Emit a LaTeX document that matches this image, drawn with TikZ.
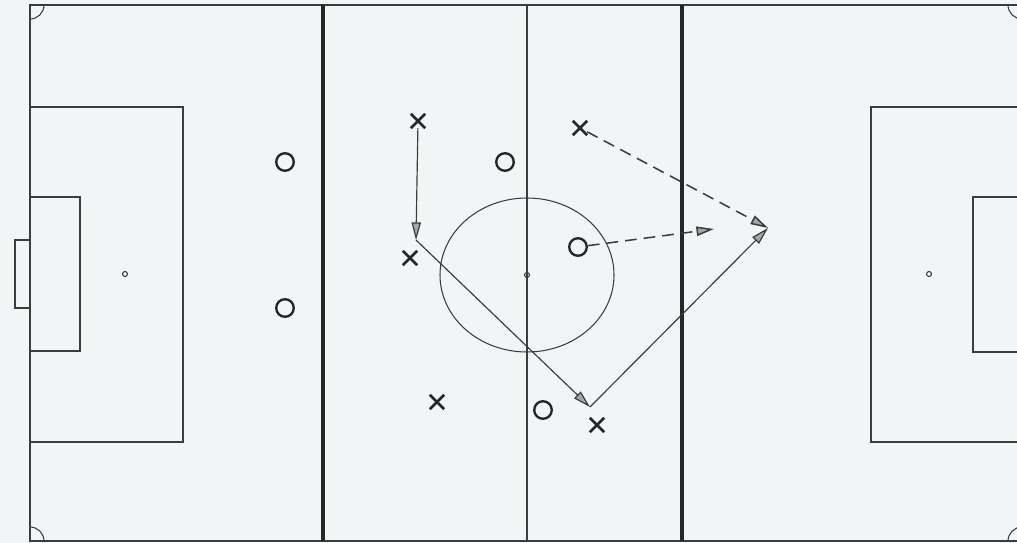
\documentclass[tikz,border=0pt]{standalone}
\usetikzlibrary{arrows.meta,shapes.misc}
\definecolor{paper}{RGB}{242,245,246}
\definecolor{ink}{RGB}{60,60,60}
\tikzset{
  pitch/.style={draw=ink,line width=0.9pt},
  thirdline/.style={draw=black!85,line width=2.8pt},
  opp/.style={circle,draw=black!85,line width=2pt,minimum size=15pt,inner sep=0pt},
  att/.style={cross out,draw=black!85,line width=2.2pt,minimum size=10pt,inner sep=0pt},
  tip/.style={-{Triangle[length=15pt,width=8pt,fill=black!35]}},
  pass/.style={draw=ink,line width=1pt,tip},
  run/.style={draw=ink,line width=1.3pt,dash pattern=on 10pt off 6pt,tip}
}
\begin{document}
\begin{tikzpicture}[x=0.03cm,y=-0.03cm]
  \fill[paper] (0,0) rectangle (1017,543);
  \useasboundingbox (0,0) rectangle (1017,543);
  % pitch
  \draw[pitch] (30,5) rectangle (1022,541);
  \draw[pitch] (527,5) -- (527,541);
  \draw[pitch] (527,275) ellipse[x radius=87,y radius=77];
  \draw[pitch] (527,275) circle[radius=2.5];
  \draw[thirdline] (323,5) -- (323,541);
  \draw[thirdline] (682,5) -- (682,541);
  % left end
  \draw[pitch] (30,107) rectangle (183,442);
  \draw[pitch] (30,197) rectangle (80,351);
  \draw[pitch] (15,240) rectangle (30,308);
  \draw[pitch] (125,274) circle[radius=2.5];
  % right end
  \draw[pitch] (1022,107) -- (871,107) -- (871,442) -- (1022,442);
  \draw[pitch] (1022,197) -- (973,197) -- (973,352) -- (1022,352);
  \draw[pitch] (929,274) circle[radius=2.5];
  % corners
  \draw[pitch] (44,5) arc[start angle=0,end angle=90,radius=14];
  \draw[pitch] (44,541) arc[start angle=0,end angle=-90,radius=14];
  \draw[pitch] (1008,5) arc[start angle=180,end angle=90,radius=14];
  \draw[pitch] (1008,541) arc[start angle=180,end angle=270,radius=14];
  % players
  \node[opp] (o1) at (285,162) {};
  \node[opp] (o2) at (285,308) {};
  \node[opp] (o3) at (505,162) {};
  \node[opp] (o4) at (578,247) {};
  \node[opp] (o5) at (543,410) {};
  \node[att] (x1) at (418,121) {};
  \node[att] (x2) at (410,258) {};
  \node[att] (x3) at (580,128) {};
  \node[att] (x4) at (437,402) {};
  \node[att] (x5) at (597,425) {};
  % moves
  \coordinate (run1) at (416,240);
  \coordinate (ball1) at (590,407);
  \coordinate (ball2) at (768,228);
  \coordinate (run2) at (714,229);
  \draw[pass] (x1) -- (run1);
  \draw[pass] (run1) -- (ball1);
  \draw[pass] (ball1) -- (ball2);
  \draw[run] (x3) -- (ball2);
  \draw[run] (o4) -- (run2);
\end{tikzpicture}
\end{document}
